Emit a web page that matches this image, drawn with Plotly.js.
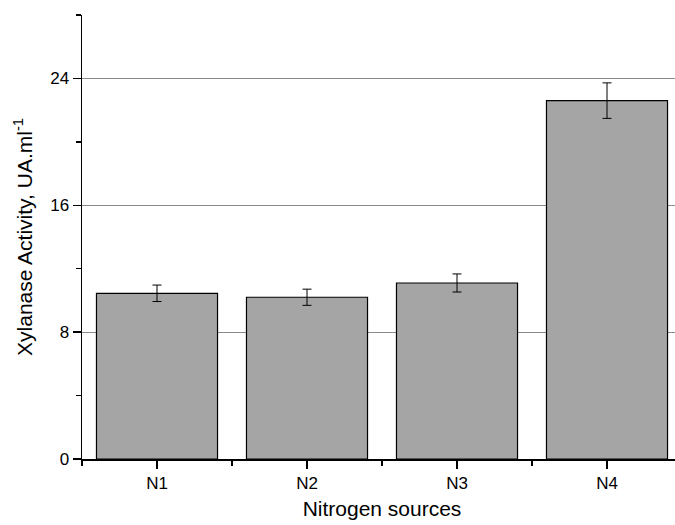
<!DOCTYPE html>
<html>
<head>
<meta charset="utf-8">
<script src="https://cdn.plot.ly/plotly-3.0.1.min.js"></script>
<style>
html, body { margin: 0; padding: 0; overflow: hidden; background: #fff; }
#chart { width: 690px; height: 525px; }
</style>
</head>
<body>
<div id="chart"></div>
<script>
const categories = ["N1", "N2", "N3", "N4"];
const activity = [10.45, 10.2, 11.1, 22.6];
const errors = [0.52, 0.51, 0.57, 1.12];
const yTickVals = [0, 8, 16, 24];

const xIdx = categories.map((_, i) => i);

const trace = {
  type: 'bar',
  x: xIdx,
  y: activity,
  width: 0.807,
  marker: { color: '#a5a5a5', line: { color: '#000', width: 1.2 } },
  error_y: { type: 'data', array: errors, visible: true, color: '#000', thickness: 1, width: 4.5 },
  hoverinfo: 'skip'
};

const font = { family: 'Liberation Sans, Arial, sans-serif', color: '#000' };

const layout = {
  width: 690,
  height: 525,
  margin: { l: 82, r: 8, t: 15, b: 66 },
  paper_bgcolor: '#fff',
  plot_bgcolor: '#fff',
  showlegend: false,
  font: font,
  xaxis: {
    type: 'linear',
    range: [-0.5, 3.5],
    tickmode: 'array',
    tickvals: xIdx,
    ticktext: categories,
    ticks: 'outside',
    ticklen: 8,
    tickwidth: 1.5,
    tickcolor: '#000',
    showline: true,
    linecolor: '#000',
    linewidth: 1.5,
    showgrid: false,
    zeroline: false,
    tickfont: { family: font.family, size: 17, color: '#000' },
    minor: { tickmode: 'linear', tick0: 0.5, dtick: 1, ticks: 'outside', ticklen: 5, tickwidth: 1.5, tickcolor: '#000', showgrid: false },
    title: { text: 'Nitrogen sources', font: { family: font.family, size: 21, color: '#000' }, standoff: 9 }
  },
  yaxis: {
    range: [0, 28],
    tickmode: 'array',
    tickvals: yTickVals,
    ticks: 'outside',
    ticklen: 8,
    tickwidth: 1.5,
    tickcolor: '#000',
    showline: true,
    linecolor: '#000',
    linewidth: 1.5,
    showgrid: true,
    gridcolor: '#8a8a8a',
    gridwidth: 1,
    zeroline: false,
    tickfont: { family: font.family, size: 17, color: '#000' },
    minor: { tickmode: 'linear', tick0: 0, dtick: 4, ticks: 'outside', ticklen: 5, tickwidth: 1.5, tickcolor: '#000', showgrid: false },
    title: { text: 'Xylanase Activity, UA.ml<sup>-1</sup>', font: { family: font.family, size: 21, color: '#000' }, standoff: 12 }
  }
};

Plotly.newPlot('chart', [trace], layout, { displayModeBar: false, staticPlot: true });
</script>
</body>
</html>
